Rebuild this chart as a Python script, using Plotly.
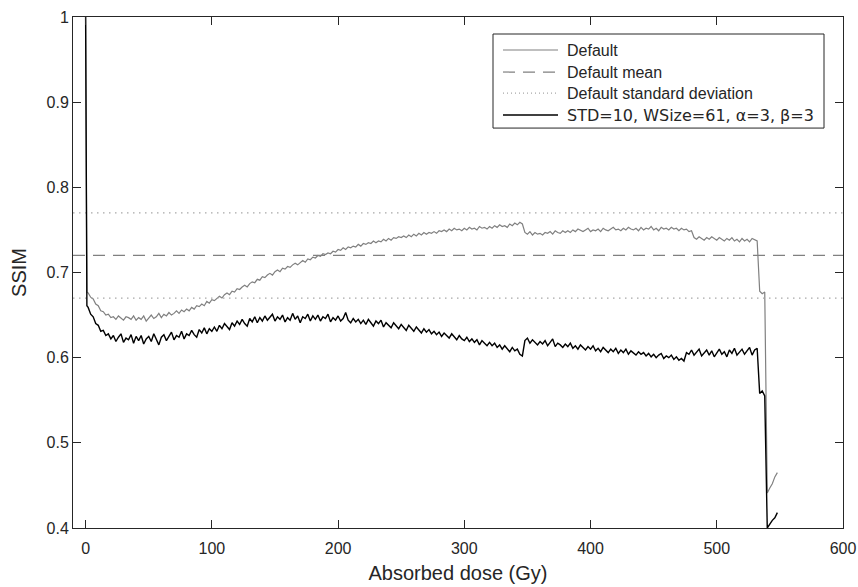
import plotly.graph_objects as go

# ---------------- data ----------------
dose = [0, 1,
        2, 4, 6, 8, 10, 12, 14, 16, 18, 20,
        22, 24, 26, 28, 30, 32, 34, 36, 38, 40,
        42, 44, 46, 48, 50, 52, 54, 56, 58, 60,
        62, 64, 66, 68, 70, 72, 74, 76, 78, 80,
        82, 84, 86, 88, 90, 92, 94, 96, 98, 100,
        102, 104, 106, 108, 110, 112, 114, 116, 118, 120,
        122, 124, 126, 128, 130, 132, 134, 136, 138, 140,
        142, 144, 146, 148, 150, 152, 154, 156, 158, 160,
        162, 164, 166, 168, 170, 172, 174, 176, 178, 180,
        182, 184, 186, 188, 190, 192, 194, 196, 198, 200,
        202, 204, 206, 208, 210, 212, 214, 216, 218, 220,
        222, 224, 226, 228, 230, 232, 234, 236, 238, 240,
        242, 244, 246, 248, 250, 252, 254, 256, 258, 260,
        262, 264, 266, 268, 270, 272, 274, 276, 278, 280,
        282, 284, 286, 288, 290, 292, 294, 296, 298, 300,
        302, 304, 306, 308, 310, 312, 314, 316, 318, 320,
        322, 324, 326, 328, 330, 332, 334, 336, 338, 340,
        342, 344, 346, 348, 350, 352, 354, 356, 358, 360,
        362, 364, 366, 368, 370, 372, 374, 376, 378, 380,
        382, 384, 386, 388, 390, 392, 394, 396, 398, 400,
        402, 404, 406, 408, 410, 412, 414, 416, 418, 420,
        422, 424, 426, 428, 430, 432, 434, 436, 438, 440,
        442, 444, 446, 448, 450, 452, 454, 456, 458, 460,
        462, 464, 466, 468, 470, 472, 474, 476, 478, 480,
        482, 484, 486, 488, 490, 492, 494, 496, 498, 500,
        502, 504, 506, 508, 510, 512, 514, 516, 518, 520,
        522, 524, 526, 528, 530, 532, 534, 536, 538, 540,
        542, 544, 546, 548]

ssim_default = [1.0, 0.677,
        0.676, 0.671, 0.669, 0.663, 0.661, 0.655, 0.654, 0.650, 0.651, 0.647,
        0.648, 0.645, 0.649, 0.646, 0.644, 0.648, 0.647, 0.645, 0.649, 0.644,
        0.647, 0.645, 0.649, 0.643, 0.647, 0.650, 0.646, 0.648, 0.652, 0.647,
        0.651, 0.649, 0.653, 0.650, 0.652, 0.655, 0.652, 0.656, 0.654, 0.657,
        0.655, 0.659, 0.657, 0.661, 0.660, 0.663, 0.661, 0.666, 0.664, 0.668,
        0.667, 0.670, 0.672, 0.670, 0.674, 0.676, 0.674, 0.678, 0.677, 0.681,
        0.680, 0.683, 0.685, 0.683, 0.687, 0.689, 0.688, 0.692, 0.691, 0.695,
        0.694, 0.697, 0.699, 0.697, 0.701, 0.703, 0.701, 0.705, 0.704, 0.707,
        0.706, 0.709, 0.711, 0.709, 0.712, 0.714, 0.712, 0.716, 0.715, 0.718,
        0.717, 0.720, 0.719, 0.722, 0.721, 0.723, 0.722, 0.725, 0.724, 0.727,
        0.726, 0.729, 0.727, 0.730, 0.729, 0.731, 0.730, 0.733, 0.731, 0.734,
        0.733, 0.735, 0.734, 0.737, 0.735, 0.737, 0.736, 0.739, 0.737, 0.740,
        0.738, 0.741, 0.740, 0.742, 0.741, 0.743, 0.741, 0.744, 0.742, 0.745,
        0.743, 0.746, 0.744, 0.747, 0.745, 0.747, 0.746, 0.748, 0.746, 0.749,
        0.748, 0.750, 0.748, 0.751, 0.749, 0.752, 0.750, 0.751, 0.749, 0.752,
        0.750, 0.753, 0.751, 0.752, 0.750, 0.754, 0.752, 0.753, 0.751, 0.754,
        0.752, 0.755, 0.753, 0.756, 0.754, 0.755, 0.753, 0.757, 0.755, 0.758,
        0.756, 0.759, 0.757, 0.747, 0.745, 0.748, 0.744, 0.747, 0.745, 0.746,
        0.744, 0.747, 0.746, 0.748, 0.745, 0.749, 0.747, 0.746, 0.749, 0.747,
        0.749, 0.747, 0.750, 0.748, 0.751, 0.749, 0.748, 0.750, 0.752, 0.748,
        0.750, 0.749, 0.751, 0.748, 0.752, 0.750, 0.749, 0.751, 0.753, 0.750,
        0.751, 0.749, 0.752, 0.750, 0.753, 0.751, 0.750, 0.752, 0.749, 0.753,
        0.750, 0.752, 0.751, 0.754, 0.750, 0.752, 0.749, 0.753, 0.751, 0.752,
        0.750, 0.753, 0.751, 0.752, 0.749, 0.752, 0.750, 0.751, 0.748, 0.749,
        0.741, 0.739, 0.742, 0.740, 0.738, 0.741, 0.739, 0.742, 0.740, 0.738,
        0.741, 0.739, 0.737, 0.740, 0.738, 0.741, 0.737, 0.739, 0.736, 0.740,
        0.737, 0.739, 0.736, 0.740, 0.738, 0.737, 0.678, 0.675, 0.677, 0.441,
        0.447, 0.452, 0.460, 0.465]

ssim_tuned = [1.0, 0.661,
        0.659, 0.651, 0.648, 0.640, 0.638, 0.631, 0.632, 0.626, 0.628, 0.622,
        0.626, 0.619, 0.624, 0.628, 0.618, 0.623, 0.621, 0.627, 0.617, 0.625,
        0.620, 0.626, 0.616, 0.622, 0.625, 0.619, 0.628, 0.621, 0.615, 0.624,
        0.627, 0.620, 0.625, 0.630, 0.621, 0.626, 0.624, 0.631, 0.622, 0.628,
        0.626, 0.632, 0.627, 0.624, 0.633, 0.629, 0.635, 0.628, 0.634, 0.631,
        0.636, 0.631, 0.638, 0.634, 0.640, 0.636, 0.633, 0.641, 0.637, 0.643,
        0.639, 0.645, 0.640, 0.637, 0.646, 0.642, 0.648, 0.641, 0.647, 0.643,
        0.649, 0.644, 0.647, 0.651, 0.643, 0.648, 0.645, 0.650, 0.642, 0.647,
        0.644, 0.652, 0.645, 0.649, 0.641, 0.648, 0.646, 0.651, 0.643, 0.649,
        0.645, 0.650, 0.643, 0.648, 0.646, 0.651, 0.642, 0.647, 0.644, 0.649,
        0.643, 0.646, 0.653, 0.644, 0.641, 0.646, 0.642, 0.645, 0.640, 0.644,
        0.639, 0.645, 0.641, 0.637, 0.643, 0.640, 0.644, 0.636, 0.641, 0.638,
        0.635, 0.641, 0.637, 0.634, 0.639, 0.635, 0.632, 0.638, 0.634, 0.631,
        0.636, 0.632, 0.629, 0.634, 0.630, 0.633, 0.628, 0.631, 0.627, 0.630,
        0.625, 0.629, 0.626, 0.623, 0.628, 0.624, 0.621, 0.626, 0.622, 0.620,
        0.624, 0.619, 0.622, 0.618, 0.621, 0.615, 0.620, 0.617, 0.614, 0.618,
        0.614, 0.617, 0.612, 0.615, 0.610, 0.614, 0.611, 0.607, 0.612, 0.608,
        0.610, 0.604, 0.602, 0.620, 0.623, 0.617, 0.621, 0.618, 0.615, 0.619,
        0.616, 0.620, 0.614, 0.618, 0.622, 0.613, 0.617, 0.615, 0.612, 0.616,
        0.613, 0.617, 0.611, 0.614, 0.610, 0.615, 0.612, 0.609, 0.613, 0.610,
        0.614, 0.608, 0.611, 0.607, 0.612, 0.609, 0.606, 0.610, 0.607, 0.611,
        0.605, 0.609, 0.606, 0.610, 0.604, 0.608, 0.605, 0.603, 0.607, 0.604,
        0.606, 0.602, 0.605, 0.601, 0.604, 0.600, 0.603, 0.605, 0.599, 0.602,
        0.600, 0.603, 0.598, 0.601, 0.597, 0.599, 0.596, 0.606, 0.604, 0.609,
        0.603, 0.607, 0.610, 0.602, 0.606, 0.609, 0.603, 0.608, 0.601, 0.606,
        0.610, 0.604, 0.607, 0.601, 0.609, 0.605, 0.611, 0.603, 0.607, 0.610,
        0.604, 0.608, 0.612, 0.603, 0.609, 0.611, 0.558, 0.561, 0.555, 0.400,
        0.405, 0.409, 0.412, 0.418]

default_mean = 0.72
default_std = 0.05

x_range = [-10, 600]
y_range = [0.4, 1.0]
x_ticks = [0, 100, 200, 300, 400, 500, 600]
y_ticks = [0.4, 0.5, 0.6, 0.7, 0.8, 0.9, 1.0]
y_tick_labels = ["0.4", "0.5", "0.6", "0.7", "0.8", "0.9", "1"]

names = ["Default", "Default mean", "Default standard deviation",
         "STD=10, WSize=61, α=3, β=3"]

# ---------------- styling ----------------
FONT = "Liberation Sans"
FONT2 = "DejaVu Sans"
TXT = "#262626"
GRAY = "#808080"
DOT_GRAY = "#a8a8a8"
DASH = "12px,8px"
DOT = "1.5px,4.5px"

fig = go.Figure()

fig.add_trace(go.Scatter(
    x=dose, y=ssim_default, mode="lines", name=names[0], showlegend=False,
    line=dict(color=GRAY, width=1.2)))

fig.add_trace(go.Scatter(
    x=x_range, y=[default_mean, default_mean], mode="lines", name=names[1],
    showlegend=False, line=dict(color=GRAY, width=1.2, dash=DASH)))

fig.add_trace(go.Scatter(
    x=[x_range[0], x_range[1], None, x_range[0], x_range[1]],
    y=[default_mean + default_std, default_mean + default_std, None,
       default_mean - default_std, default_mean - default_std],
    mode="lines", name=names[2], connectgaps=False, showlegend=False,
    line=dict(color=DOT_GRAY, width=1.3, dash=DOT)))

fig.add_trace(go.Scatter(
    x=dose, y=ssim_tuned, mode="lines", name=names[3], showlegend=False,
    line=dict(color="#000000", width=1.4)))

axis_common = dict(
    showgrid=False, zeroline=False, automargin=False,
    showline=True, linecolor=TXT, linewidth=1, mirror="ticks",
    ticks="inside", ticklen=8, tickwidth=1, tickcolor=TXT,
    tickfont=dict(family=FONT, size=16, color=TXT),
)

fig.update_xaxes(range=x_range, tickvals=x_ticks, ticklabelstandoff=6,
                 title=dict(text="Absorbed dose (Gy)",
                            font=dict(family=FONT, size=20, color=TXT),
                            standoff=9),
                 **axis_common)
fig.update_yaxes(range=y_range, tickvals=y_ticks, ticktext=y_tick_labels,
                 title=dict(text="SSIM",
                            font=dict(family=FONT, size=20, color=TXT),
                            standoff=14),
                 **axis_common)

# ---------------- hand-drawn legend box (paper coordinates) ----------------
L = 73.0; R = 843.0; T = 17.0; B = 527.7
def px(x):
    return (x - L) / (R - L)
def py(y):
    return 1 - (y - T) / (B - T)

shapes = [dict(type="rect", xref="paper", yref="paper",
               x0=px(493), x1=px(824), y0=py(128), y1=py(34),
               line=dict(color=TXT, width=1), fillcolor="white", layer="above")]
annotations = []
row_y = [50, 72, 93, 115]
styles = [dict(color=GRAY, width=1.2),
          dict(color=GRAY, width=1.2, dash=DASH),
          dict(color=DOT_GRAY, width=1.3, dash="1px,3px"),
          dict(color="#000000", width=1.4)]
for i, nm in enumerate(names):
    shapes.append(dict(type="line", xref="paper", yref="paper",
                       x0=px(503), x1=px(558), y0=py(row_y[i]), y1=py(row_y[i]),
                       line=styles[i], layer="above"))
    fam = FONT2 if i == 3 else FONT
    annotations.append(dict(xref="paper", yref="paper", x=px(565), y=py(row_y[i]),
                            xanchor="left", yanchor="middle", showarrow=False,
                            text=nm, font=dict(family=fam, size=16, color=TXT)))

fig.update_layout(
    width=858, height=587,
    margin=dict(l=73, r=15, t=17, b=59),
    paper_bgcolor="white", plot_bgcolor="white",
    font=dict(family=FONT, size=16, color=TXT),
    showlegend=False,
    shapes=shapes,
    annotations=annotations,
)

fig.write_html("out.html",
               config={"displayModeBar": False},
               post_script="document.body.style.margin='0px';"
                           "document.body.style.overflow='hidden';")
